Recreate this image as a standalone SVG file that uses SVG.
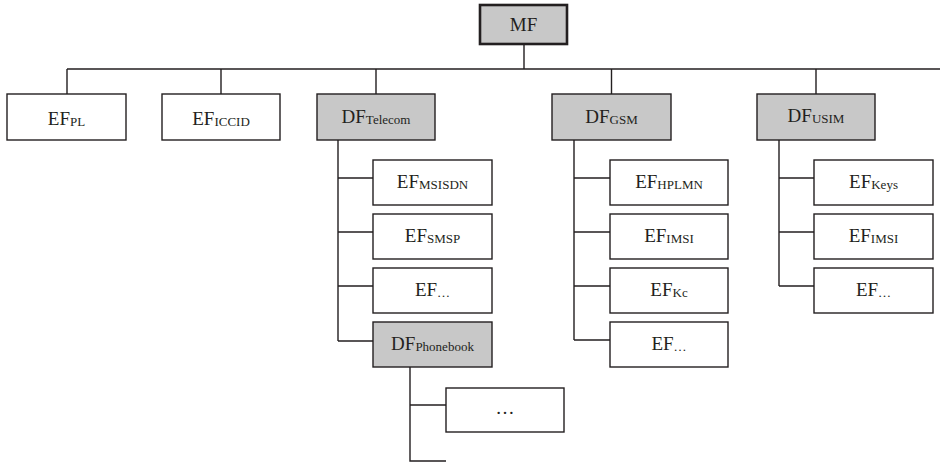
<svg xmlns="http://www.w3.org/2000/svg" width="940" height="463" viewBox="0 0 940 463">
<style>
.ef{fill:#fff;stroke:#231f20;stroke-width:1.4}
.df{fill:#c8c8c8;stroke:#231f20;stroke-width:1.4}
.mf{fill:#c8c8c8;stroke:#231f20;stroke-width:2.6}
.t{font-family:"Liberation Serif","Times New Roman",serif;font-size:19px;fill:#231f20;text-anchor:middle}
.s{font-size:13px}
.c{fill:none;stroke:#231f20;stroke-width:1.4}
</style>
<rect width="940" height="463" fill="#fff"/>
<g id="connectors" class="c">
<path d="M524 44V69M67 69H940M67 69V94M221 69V94M376 69V94M611.5 69V94M816 69V94"/>
<path d="M338 140V341M338 178H373M338 232H373M338 286H373M338 341H373"/>
<path d="M410 367V461H446M410 405H446"/>
<path d="M574 140V340M574 178H610M574 232H610M574 286H610M574 340H610"/>
<path d="M779 140V286M779 178H814M779 232H814M779 286H814"/>
</g>
<g id="MF"><rect class="mf" x="480" y="5" width="87" height="39"/><text class="t" x="523.5" y="31">MF</text></g>
<g id="EF_PL"><rect class="ef" x="7" y="94" width="119" height="46"/><text class="t" x="66.5" y="125">EF<tspan class="s" dy="1">PL</tspan></text></g>
<g id="EF_ICCID"><rect class="ef" x="162" y="94" width="118" height="46"/><text class="t" x="221" y="125">EF<tspan class="s" dy="1">ICCID</tspan></text></g>
<g id="DF_Telecom"><rect class="df" x="317" y="94" width="118" height="46"/><text class="t" x="376" y="123">DF<tspan class="s" dy="1">Telecom</tspan></text></g>
<g id="DF_GSM"><rect class="df" x="552" y="94" width="119" height="46"/><text class="t" x="611.5" y="123">DF<tspan class="s" dy="1">GSM</tspan></text></g>
<g id="DF_USIM"><rect class="df" x="757" y="94" width="118" height="46"/><text class="t" x="816" y="122">DF<tspan class="s" dy="1">USIM</tspan></text></g>
<g id="EF_MSISDN"><rect class="ef" x="373" y="160" width="119" height="45"/><text class="t" x="432.5" y="188">EF<tspan class="s" dy="1">MSISDN</tspan></text></g>
<g id="EF_SMSP"><rect class="ef" x="373" y="214" width="119" height="45"/><text class="t" x="432.5" y="242">EF<tspan class="s" dy="1">SMSP</tspan></text></g>
<g id="EF_etc_telecom"><rect class="ef" x="373" y="268" width="119" height="45"/><text class="t" x="432.5" y="296">EF<tspan class="s" dy="1">…</tspan></text></g>
<g id="DF_Phonebook"><rect class="df" x="373" y="322" width="119" height="45"/><text class="t" x="432.5" y="350">DF<tspan class="s" dy="1">Phonebook</tspan></text></g>
<g id="phonebook_etc"><rect class="ef" x="446" y="388" width="118" height="44"/><text class="t" x="505" y="414">…</text></g>
<g id="EF_HPLMN"><rect class="ef" x="610" y="160" width="118" height="45"/><text class="t" x="669" y="188">EF<tspan class="s" dy="1">HPLMN</tspan></text></g>
<g id="EF_IMSI_gsm"><rect class="ef" x="610" y="214" width="118" height="45"/><text class="t" x="669" y="242">EF<tspan class="s" dy="1">IMSI</tspan></text></g>
<g id="EF_Kc"><rect class="ef" x="610" y="268" width="118" height="45"/><text class="t" x="669" y="296">EF<tspan class="s" dy="1">Kc</tspan></text></g>
<g id="EF_etc_gsm"><rect class="ef" x="610" y="322" width="118" height="45"/><text class="t" x="669" y="350">EF<tspan class="s" dy="1">…</tspan></text></g>
<g id="EF_Keys"><rect class="ef" x="814" y="160" width="119" height="45"/><text class="t" x="873.5" y="188">EF<tspan class="s" dy="1">Keys</tspan></text></g>
<g id="EF_IMSI_usim"><rect class="ef" x="814" y="214" width="119" height="45"/><text class="t" x="873.5" y="242">EF<tspan class="s" dy="1">IMSI</tspan></text></g>
<g id="EF_etc_usim"><rect class="ef" x="814" y="268" width="119" height="45"/><text class="t" x="873.5" y="296">EF<tspan class="s" dy="1">…</tspan></text></g>
</svg>
